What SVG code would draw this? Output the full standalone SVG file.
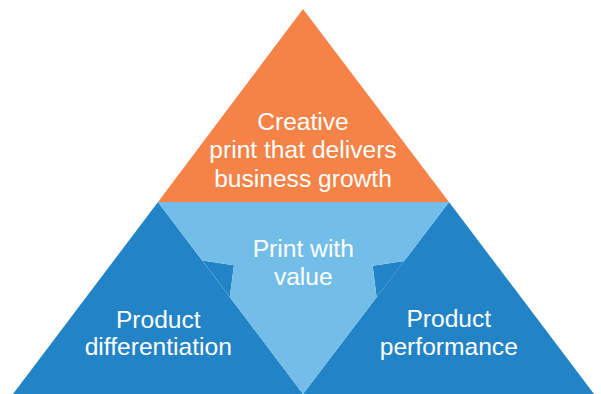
<svg xmlns="http://www.w3.org/2000/svg" width="601" height="394" viewBox="0 0 601 394">
<style>
.lbl{font-family:"Liberation Sans",Arial,sans-serif;font-size:24.6px;fill:#ffffff;text-anchor:middle}
.orange{fill:#F58247}
.light{fill:#72BEE9}
.dark{fill:#2284C6}
</style>
<rect width="601" height="394" fill="#ffffff"/>
<g id="top">
<polygon class="orange" points="303,9 449,202 158,202"/>
<text class="lbl" x="303" y="129.5">Creative</text>
<text class="lbl" x="303" y="158.2">print that delivers</text>
<text class="lbl" x="303" y="186.8">business growth</text>
</g>
<g id="left">
<polygon class="dark" points="158,202 303,394 13,394"/>
<polygon class="dark" points="202.3,260.5 234,265.3 229.8,297"/>
<text class="lbl" x="158.3" y="327.7">Product</text>
<text class="lbl" x="158.3" y="355">differentiation</text>
</g>
<g id="right">
<polygon class="dark" points="449,202 594,394 303,394"/>
<polygon class="dark" points="404.2,261 372.7,265.7 376.6,297.3"/>
<text class="lbl" x="448.8" y="327">Product</text>
<text class="lbl" x="448.8" y="355">performance</text>
</g>
<g id="center">
<polygon class="light" points="158,202 449,202 404.2,261 372.7,265.7 376.6,297.3 303,394 229.8,297 234,265.3 202.3,260.5"/>
<text class="lbl" x="303.3" y="257.3">Print with</text>
<text class="lbl" x="303.3" y="285">value</text>
</g>
<g id="connectors"/>
</svg>
